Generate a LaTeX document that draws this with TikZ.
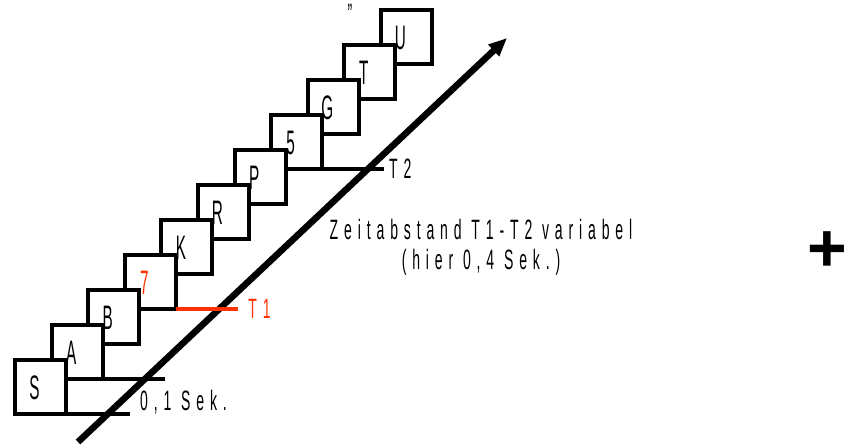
\documentclass[tikz,border=0pt]{standalone}
\usepackage{fontspec}
\setmainfont{Liberation Sans}
\newfontfamily\narrowfont[FakeStretch=0.5,LetterSpace=21]{Liberation Sans}
\newfontfamily\letterfont[FakeStretch=0.45]{Liberation Sans}
\newfontfamily\plusfont{Liberation Sans}
\usetikzlibrary{arrows.meta,positioning}
\definecolor{markred}{HTML}{FF3300}

\begin{document}
\begin{tikzpicture}[x=0.03cm,y=-0.03cm]
  % Styles
  \tikzset{
    card/.style={draw, line width=3.5pt, fill=white, minimum width=1.53cm, minimum height=1.62cm, inner sep=0pt, outer sep=0pt},
    glyph/.style={inner sep=0pt, font=\letterfont\fontsize{29}{30}\selectfont},
    caption/.style={inner sep=0pt, align=center, font=\narrowfont\fontsize{23.9}{25.6}\selectfont},
    tick/.style={line width=2.8pt},
    timeline/.style={line width=5.6pt, -{Triangle[length=0.55cm,width=0.45cm]}},
  }
  \useasboundingbox (0,0) rectangle (846,446);

  % Cards, top one first so the lower ones lie over it
  \foreach \name/\i in {U/10,T/9,G/8,5/7,P/6,R/5,K/4,7/3,B/2,A/1,S/0}
    \node[card] (c\name) at (40.5+36.6*\i, 387-35*\i) {};

  % Letters on the cards
  \foreach \name in {S,A,B,K,R,P,5,G,T,U}
    \node[glyph, xshift=-0.18cm, yshift=-0.03cm] (l\name) at (c\name) {\name};
  \node[glyph, text=markred, xshift=-0.18cm, yshift=-0.03cm] (l7) at (c7) {7};

  % Time axis
  \coordinate (tstart) at (78,442);
  \coordinate (tend) at (507,38);

  % Marks and labels
  \coordinate[right=1.92cm of cS.south east] (s0end);
  \coordinate[right=1.86cm of cA.south east] (s1end);
  \node[caption, anchor=west] (dt) at (140,402) {0,1 Sek.};
  \node[caption, text=markred, right=2.17cm of c7.south east] (t1) {T1};
  \node[caption, right=2.0cm of c5.south east] (t2) {T2};
  \node[caption] (gap) at (481,247) {Zeitabstand T1-T2 variabel\\(hier 0,4 Sek.)};
  \node[caption, anchor=base] (quote) at (350,23) {”};
  \node[inner sep=0pt, anchor=base, font=\plusfont\fontsize{58}{60}\selectfont\bfseries] (plus) at (827,271) {+};

  \draw[tick] (cS.south east) -- (s0end);
  \draw[tick] (cA.south east) -- (s1end);
  \draw[tick] (c5.south east) -- ([xshift=-0.15cm]t2.west);
  \draw[timeline] (tstart) -- (tend);
  \draw[tick, draw=markred, line width=3.4pt] (c7.south east) -- ([xshift=-0.3cm]t1.west);
\end{tikzpicture}
\end{document}
